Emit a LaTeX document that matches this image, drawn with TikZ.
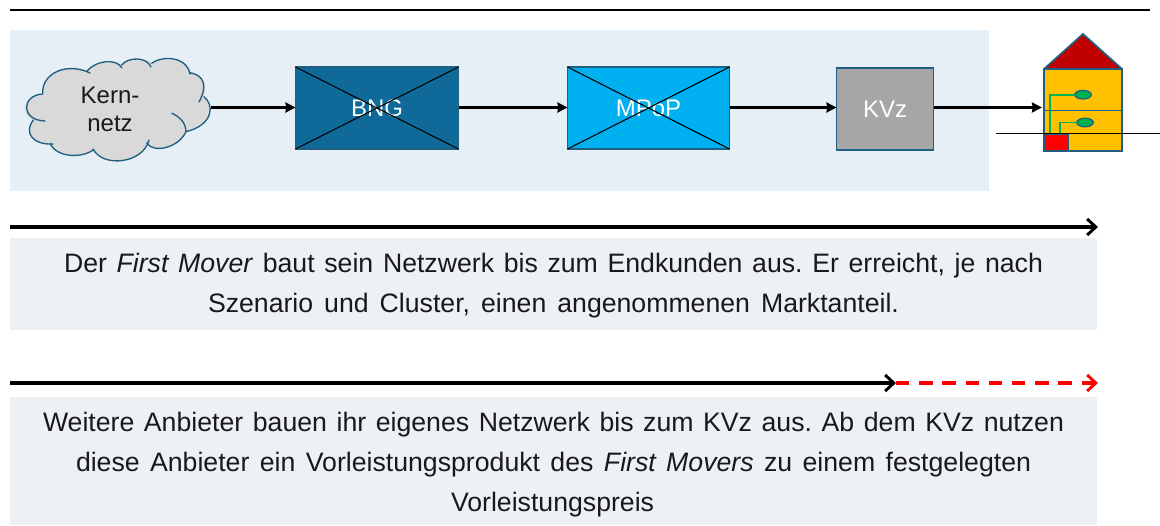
\documentclass[tikz,border=0pt]{standalone}
\usepackage{fontspec}
\setmainfont{Liberation Sans}
\usetikzlibrary{arrows.meta,shapes.geometric}
\definecolor{bgblue}{HTML}{E6EEF6}
\definecolor{txtbg}{HTML}{EDF1F5}
\definecolor{edge}{HTML}{1F5F82}
\definecolor{bngc}{HTML}{0F6A9A}
\definecolor{mpopc}{HTML}{00B0F0}
\definecolor{kvzc}{HTML}{A6A6A6}
\definecolor{cloudc}{HTML}{D9D9D9}
\definecolor{roofc}{HTML}{C00000}
\definecolor{wallc}{HTML}{FFC000}
\definecolor{wirec}{HTML}{00B050}
\frenchspacing
\newcommand{\fitline}[2]{\makebox[\dimexpr #1pt*3/4\relax][s]{#2}}
\tikzset{
  x=0.75pt,y=-0.75pt,
  every node/.style={inner sep=0pt,outer sep=0pt},
  netbox/.style={draw=edge,line width=0.9pt,anchor=north west,text=white,font=\fontsize{18}{20}\selectfont},
  cross/.style={black,line width=0.8pt},
  link/.style={black,line width=2.1pt,-{Stealth[length=7.5pt,width=7.5pt,inset=0.5pt]}},
  longarrow/.style={black,line width=2.6pt,-{Straight Barb[length=6.5pt,width=12pt,line width=2.2pt]}},
  redarrow/.style={red,line width=2.6pt,dash pattern=on 10pt off 7.4pt,-{Straight Barb[length=6.5pt,width=12pt,line width=2.2pt,red]}},
  txtbox/.style={fill=txtbg,anchor=north west},
  caption/.style={align=center,font=\fontsize{20}{30}\selectfont,text=black!90},
  houseline/.style={draw=edge,line width=1.3pt},
  wire/.style={wirec,line width=1.4pt},
  lamp/.style={ellipse,fill=wirec,draw=edge,line width=0.9pt,minimum width=12.5pt,minimum height=6.5pt},
}
\begin{document}
\begin{tikzpicture}
\useasboundingbox (0,0) rectangle (1160,525);
\coordinate (topL) at (10,10); \coordinate (topR) at (1150,10);
\draw[black,line width=1.5pt] (topL) -- (topR);
\node[fill=bgblue,anchor=north west,minimum width=979*0.75pt,minimum height=161*0.75pt] (bg) at (10,30) {};
% cloud
\fill[cloudc] (42.7,93.3) .. controls (41.7,73.3) and (66.7,61.7) .. (87.3,70.7)
  .. controls (96.7,60) and (116.7,58.3) .. (121.7,65)
  .. controls (128.3,56.7) and (146.7,56.7) .. (151.7,63.3)
  .. controls (163.3,55) and (186.7,56.7) .. (190,72.7)
  .. controls (203.3,75) and (208.3,85) .. (204,96.7)
  .. controls (214.7,105) and (213.3,125) .. (186,131.7)
  .. controls (178.3,148.3) and (153.3,153.3) .. (147,143.3)
  .. controls (143.3,163.3) and (103.3,168.3) .. (94,149.3)
  .. controls (83.3,158.3) and (56.7,158.3) .. (50,143.3)
  .. controls (33.3,145) and (23.3,133.3) .. (33.3,120)
  .. controls (20,116.7) and (21.7,95) .. (42.7,94) -- cycle;
\draw[edge,line width=1pt,line cap=round] (42.7,93.3) .. controls (41.7,73.3) and (66.7,61.7) .. (90,73)
  (87.3,70.7) .. controls (96.7,60) and (116.7,58.3) .. (122,68)
  (121.7,65) .. controls (128.3,56.7) and (146.7,56.7) .. (151,67)
  (151.7,63.3) .. controls (163.3,55) and (186.7,56.7) .. (190,74)
  (190,72.7) .. controls (203.3,75) and (208.3,85) .. (199,102)
  (204,96.7) .. controls (214.7,105) and (213.3,125) .. (186,131.7)
  (172,113.3) .. controls (186,120) and (185.3,128) .. (186,131.7)
  .. controls (178.3,148.3) and (153.3,153.3) .. (147,143.3) -- (148,142)
  (149,140) .. controls (143.3,163.3) and (103.3,168.3) .. (93,149)
  (94,149.3) .. controls (83.3,158.3) and (56.7,158.3) .. (50,143.3)
  (53,144) .. controls (33.3,145) and (23.3,133.3) .. (33.3,120)
  (45,121) .. controls (20,120) and (21.7,95) .. (42.7,94);
\node[align=center,font=\fontsize{18}{20.5}\selectfont,text=black!90] (cloud) at (110,109.5) {Kern-\\netz};
\coordinate (cloudE) at (211,107.5);
% boxes
\node[netbox,fill=bngc,minimum width=163*0.75pt,minimum height=82*0.75pt] (bng) at (295.5,67) {BNG};
\draw[cross] (bng.north west) -- (bng.south east) (bng.north east) -- (bng.south west);
\node[netbox,fill=mpopc,minimum width=162*0.75pt,minimum height=82*0.75pt] (mpop) at (567.5,67) {MPoP};
\draw[cross] (mpop.north west) -- (mpop.south east) (mpop.north east) -- (mpop.south west);
\node[netbox,fill=kvzc,minimum width=97*0.75pt,minimum height=82*0.75pt] (kvz) at (836.5,68) {KVz};
% house
\fill[roofc] (1044,69) -- (1083,34) -- (1122,69) -- cycle;
\node[fill=wallc,houseline,anchor=north west,minimum width=78*0.75pt,minimum height=82*0.75pt] (house) at (1044,69) {};
\draw[houseline] (1044,69) -- (1083,34) -- (1122,69);
\draw[houseline] (1044,110.5) -- (1122,110.5);
\node[fill=red,draw=edge,line width=0.8pt,anchor=north west,minimum width=24*0.75pt,minimum height=17*0.75pt] (redbox) at (1044,134) {};
\coordinate (houseW) at (1042,107.5);
\coordinate (lineL) at (996,133.5); \coordinate (lineR) at (1160,133.5);
\node[lamp] (lampA) at (1083,94.7) {};
\node[lamp] (lampB) at (1085,122.5) {};
\draw[wire] (1050,134) |- (lampA.west);
\draw[wire] (1060,134) |- (lampB.west);
\draw[black,line width=1.1pt] (lineL) -- (lineR);
% links
\draw[link] (cloudE) -- (bng.west |- cloudE);
\draw[link] (bng.east |- cloudE) -- (mpop.west |- cloudE);
\draw[link] (mpop.east |- cloudE) -- (kvz.west |- cloudE);
\draw[link] (kvz.east |- cloudE) -- (houseW);
% long arrows
\coordinate (a1L) at (10,227); \coordinate (a1R) at (1098,227);
\draw[longarrow] (a1L) -- (a1R);
\node[txtbox,minimum width=1087*0.75pt,minimum height=92*0.75pt] (box1) at (10,238) {};
\node[caption] (text1) at (553.5,285.5) {\fitline{979}{Der \textit{First Mover} baut sein Netzwerk bis zum Endkunden aus. Er erreicht, je nach}\\\fitline{691}{Szenario und Cluster, einen angenommenen Marktanteil.}};
\coordinate (a2L) at (10,383); \coordinate (a2M) at (896,383); \coordinate (a2R) at (1098,383);
\draw[redarrow] (a2M) -- (a2R);
\draw[longarrow] (a2L) -- (a2M);
\node[txtbox,minimum width=1087*0.75pt,minimum height=128*0.75pt] (box2) at (10,397) {};
\node[caption] (text2) at (553.5,464.5) {\fitline{1021}{Weitere Anbieter bauen ihr eigenes Netzwerk bis zum KVz aus. Ab dem KVz nutzen}\\\fitline{955}{diese Anbieter ein Vorleistungsprodukt des \textit{First Movers} zu einem festgelegten}\\\fitline{205}{Vorleistungspreis}};
\end{tikzpicture}
\end{document}
